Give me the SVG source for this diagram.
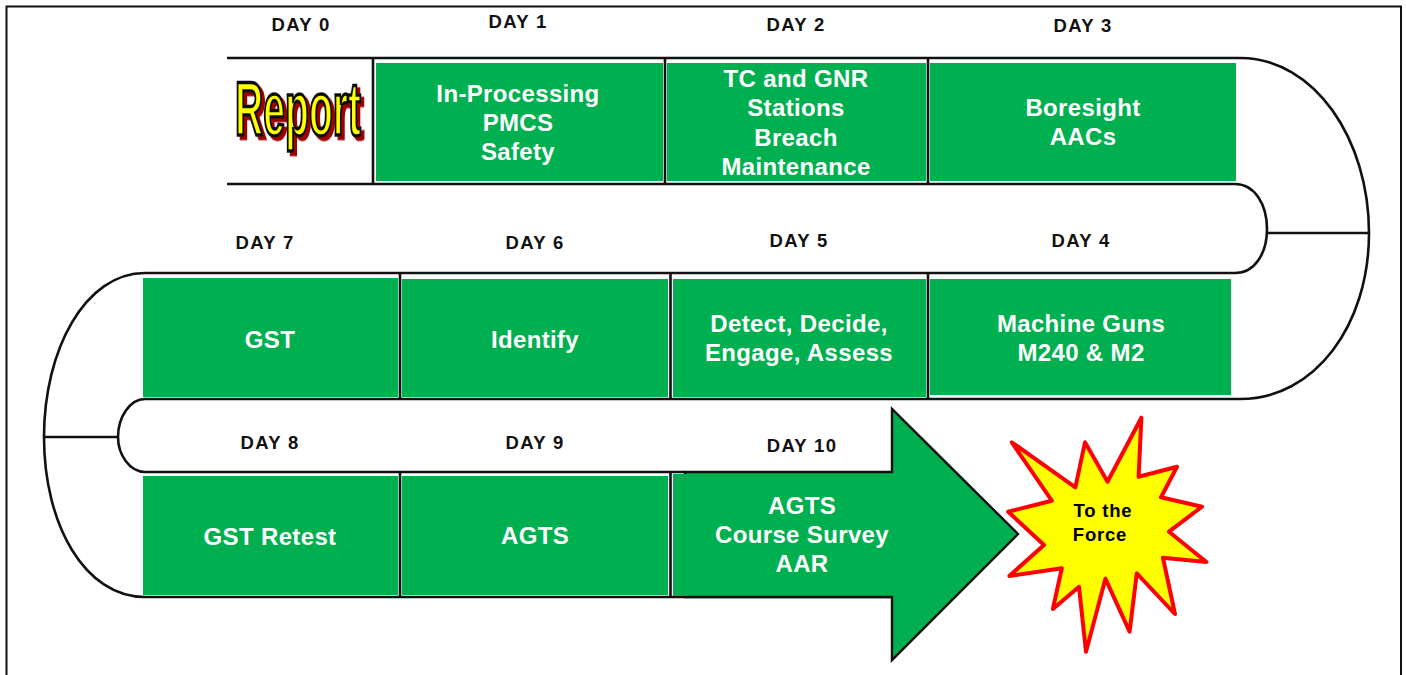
<svg xmlns="http://www.w3.org/2000/svg" width="1406" height="675" viewBox="0 0 1406 675">
<style>
text{font-family:"Liberation Sans",Arial,sans-serif;font-weight:700;text-anchor:middle}
.box{fill:#00b050}
.t{fill:#fff;font-size:24px;letter-spacing:.35px}
.d{fill:#111;font-size:18.500px;letter-spacing:1.300px}
.s{fill:#000;font-size:18.500px;letter-spacing:.8px}
.l{fill:none;stroke:#111;stroke-width:2.600}
</style>
<defs><filter id="shadow" x="-10%" y="-10%" width="125%" height="125%"><feDropShadow dx="3" dy="3.500" stdDeviation="0.400" flood-color="#a00000"/></filter></defs>
<rect width="1406" height="675" fill="#fff"/>
<path class="l" style="stroke-width:2" d="M6.500 675V6.500H1401V675"/>
<g id="connectors">
<path class="l" d="M227 58H1240C1315 58 1369 140 1369 233C1369 325 1315 399 1240 399H145C130 399 118 417 118 437C118 455 130 472 145 472H685"/>
<path class="l" d="M227 184H1235C1255 184 1267 205 1267 229C1267 253 1255 273 1235 273H145C85 273 44 350 44 437C44 525 85 597 145 597H892"/>
<path class="l" d="M1267 233H1370M44 437H118"/>
<path class="l" d="M373 58V184M665 58V184M928 58V184M400 273V399M670.500 273V399M928 273V399M400 472V597M670.500 472V597"/>
</g>
<g id="day0"><text class="d" x="301" y="31">DAY 0</text>
<g filter="url(#shadow)"><text transform="translate(298 135) scale(.515 1)" x="0" y="0" font-size="76" fill="#ffff00" stroke="#111" stroke-width="2.800" vector-effect="non-scaling-stroke">Report</text></g></g>
<g id="day1"><text class="d" x="518" y="28">DAY 1</text><rect class="box" x="376" y="63" width="287" height="118"/>
<text class="t" x="518" y="102">In-Processing</text><text class="t" x="518" y="131">PMCS</text><text class="t" x="518" y="160">Safety</text></g>
<g id="day2"><text class="d" x="796" y="31">DAY 2</text><rect class="box" x="667" y="63" width="259" height="118"/>
<text class="t" x="796" y="87">TC and GNR</text><text class="t" x="796" y="116">Stations</text><text class="t" x="796" y="146">Breach</text><text class="t" x="796" y="175">Maintenance</text></g>
<g id="day3"><text class="d" x="1083" y="32">DAY 3</text><rect class="box" x="930" y="63" width="306" height="118"/>
<text class="t" x="1083" y="116">Boresight</text><text class="t" x="1083" y="145">AACs</text></g>
<g id="day4"><text class="d" x="1081" y="247">DAY 4</text><rect class="box" x="930" y="279" width="301" height="116"/>
<text class="t" x="1081" y="332">Machine Guns</text><text class="t" x="1081" y="361">M240 &amp; M2</text></g>
<g id="day5"><text class="d" x="799" y="247">DAY 5</text><rect class="box" x="673" y="279" width="253" height="118"/>
<text class="t" x="799" y="332">Detect, Decide,</text><text class="t" x="799" y="361">Engage, Assess</text></g>
<g id="day6"><text class="d" x="535" y="249">DAY 6</text><rect class="box" x="402" y="279" width="266" height="118"/>
<text class="t" x="535" y="348">Identify</text></g>
<g id="day7"><text class="d" x="265" y="249">DAY 7</text><rect class="box" x="143" y="278" width="255" height="119"/>
<text class="t" x="270" y="348">GST</text></g>
<g id="day8"><text class="d" x="270" y="449">DAY 8</text><rect class="box" x="143" y="476" width="255" height="119"/>
<text class="t" x="270" y="545">GST Retest</text></g>
<g id="day9"><text class="d" x="535" y="449">DAY 9</text><rect class="box" x="402" y="476" width="266" height="119"/>
<text class="t" x="535" y="544">AGTS</text></g>
<g id="day10"><text class="d" x="802" y="452">DAY 10</text>
<path class="box" stroke="#111" stroke-width="2.400" d="M685 472H892V409L1018 534L892 660V597H685Z"/>
<rect class="box" x="673" y="474" width="14" height="122"/>
<text class="t" x="802" y="514">AGTS</text><text class="t" x="802" y="543">Course Survey</text><text class="t" x="802" y="572">AAR</text></g>
<g id="force"><polygon fill="#ffff00" stroke="#ff0000" stroke-width="4" stroke-linejoin="round" points="1011.800,442.300 1075.400,487.300 1085,442.300 1107.500,481.700 1141.400,417.700 1138.600,476.700 1177,466.700 1161,497.300 1202,506.700 1169,531.700 1206.400,562 1162.900,557.700 1175,614 1136.800,573.300 1129.600,631.700 1105.400,578.700 1086,651.700 1079,586.700 1052.900,609 1061.800,568.300 1009.300,576 1044,545 1008.200,511.700 1051.800,500.700"/>
<text class="s" x="1103" y="517">To the</text><text class="s" x="1100" y="541">Force</text></g>
</svg>
